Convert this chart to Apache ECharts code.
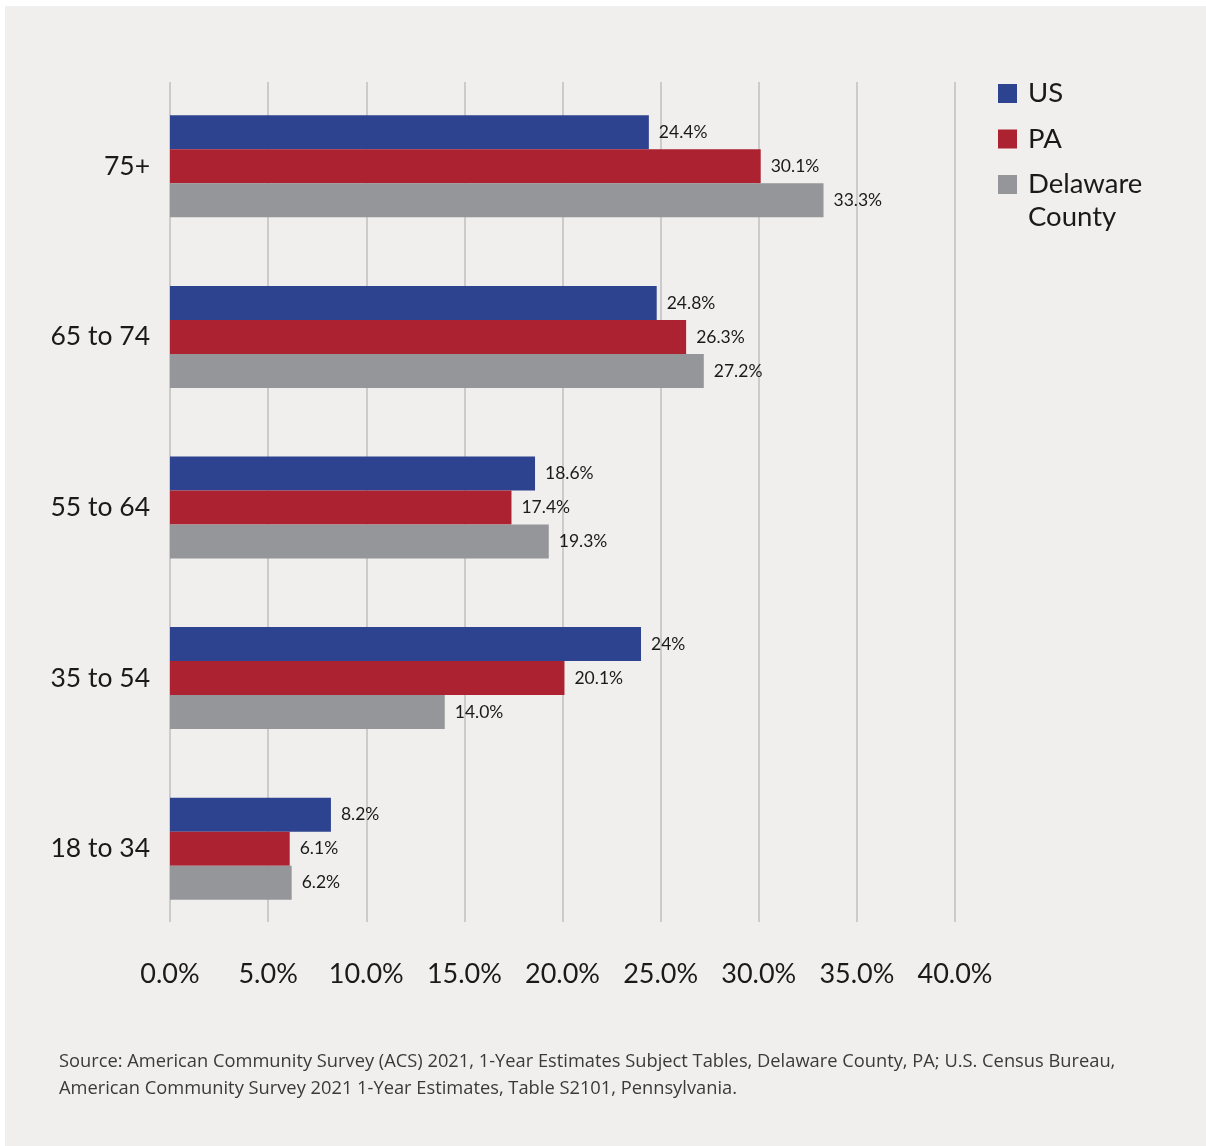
<!DOCTYPE html>
<html>
<head>
<meta charset="utf-8">
<title>Age distribution</title>
<script src="https://cdn.jsdelivr.net/npm/echarts@6/dist/echarts.min.js"></script>
<style>
  html, body { margin: 0; padding: 0; background: #ffffff; }
  #chart {
    width: 1206px; height: 1146px;
    background: linear-gradient(#f0efed, #f0efed) 5px 6px / 1201px 1140px no-repeat, #ffffff;
  }
</style>
</head>
<body>
<div id="chart"></div>
<script>
// Age groups, listed top to bottom
const ageGroups = ['75+', '65 to 74', '55 to 64', '35 to 54', '18 to 34'];

// Share of population (%) as printed on each bar
const usValues = ['24.4', '24.8', '18.6', '24', '8.2'];
const paValues = ['30.1', '26.3', '17.4', '20.1', '6.1'];
const delcoValues = ['33.3', '27.2', '19.3', '14.0', '6.2'];

const seriesNames = ['US', 'PA', 'Delaware County'];
const seriesColors = ['#2d438f', '#ac2231', '#959699'];

const xTicks = { min: 0, max: 40, interval: 5 };

const sourceNote = 'Source: American Community Survey (ACS) 2021, 1-Year Estimates Subject Tables, Delaware County, PA; U.S. Census Bureau,\n' +
  'American Community Survey 2021 1-Year Estimates, Table S2101, Pennsylvania.';

const FONT = 'Lato, "Open Sans", sans-serif';
const NOTE_FONT = '"Open Sans", Lato, sans-serif';
const INK = '#1a1a1a';

function makeSeries(name, raw, color) {
  return {
    name: name,
    type: 'bar',
    xAxisIndex: 0,
    yAxisIndex: 0,
    barWidth: 34,
    barGap: '0%',
    itemStyle: { color: color },
    data: raw.map(Number),
    label: {
      show: true,
      position: 'right',
      distance: 10,
      color: INK,
      fontFamily: FONT,
      fontSize: 17.5,
      formatter: p => raw[p.dataIndex] + '%'
    }
  };
}

const chart = echarts.init(document.getElementById('chart'), null, { renderer: 'canvas' });

chart.setOption({
  backgroundColor: 'transparent',
  animation: false,
  textStyle: { fontFamily: FONT },
  grid: [
    // bars
    { left: 170, top: 81, width: 785, height: 853 },
    // gridlines and percentage ticks
    { left: 170, top: 82, width: 785, height: 840 }
  ],
  xAxis: [
    {
      gridIndex: 0, type: 'value', show: false,
      min: xTicks.min, max: xTicks.max, interval: xTicks.interval
    },
    {
      gridIndex: 1, type: 'value',
      min: xTicks.min, max: xTicks.max, interval: xTicks.interval,
      axisLine: { show: false },
      axisTick: { show: false },
      splitLine: { show: true, lineStyle: { color: '#cbcbcb', width: 2 } },
      axisLabel: {
        margin: 39,
        fontSize: 27,
        color: INK,
        fontFamily: FONT,
        formatter: v => v.toFixed(1) + '%'
      }
    }
  ],
  yAxis: [
    {
      gridIndex: 0, type: 'category', inverse: true,
      data: ageGroups,
      axisLine: { show: false },
      axisTick: { show: false },
      axisLabel: { margin: 20, fontSize: 26.5, color: INK, fontFamily: FONT }
    },
    { gridIndex: 1, type: 'value', show: false, splitLine: { show: false } }
  ],
  legend: {
    orient: 'vertical',
    left: 998,
    top: 79,
    padding: 0,
    itemWidth: 19,
    itemHeight: 19,
    itemGap: 16.5,
    icon: 'rect',
    data: seriesNames,
    formatter: name => name === 'Delaware County' ? 'Delaware' : name,
    textStyle: { fontSize: 27.5, lineHeight: 27, color: INK, fontFamily: FONT, padding: [2, 0, 0, 6] }
  },
  graphic: [
    {
      type: 'text', left: 1028, top: 203,
      style: { text: 'County', fontSize: 27.5, fontFamily: FONT, fill: INK }
    },
    {
      type: 'text', left: 59, top: 1048,
      style: { text: sourceNote, fontSize: 18.3, lineHeight: 27, fontFamily: NOTE_FONT, fill: '#3a3a3a' }
    }
  ],
  series: [
    makeSeries(seriesNames[0], usValues, seriesColors[0]),
    makeSeries(seriesNames[1], paValues, seriesColors[1]),
    makeSeries(seriesNames[2], delcoValues, seriesColors[2])
  ]
});
</script>
</body>
</html>
